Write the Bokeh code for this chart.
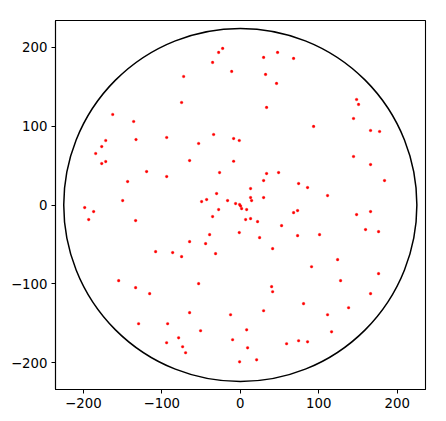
from bokeh.plotting import figure
from bokeh.models import Range1d, FixedTicker
from bokeh.embed import file_html
from bokeh.resources import INLINE

# circle
circle_x = [0]
circle_y = [0]
circle_r = [225]

# scattered points
pts_x = [
    -22.5, -27.6, -35.3, -11.0, -72.2, -74.8, -162.6, -135.9, -34.0, -93.8,
    -132.9, -8.5, -1.3, -171.5, -176.6, -53.1, -184.3, -64.6, -171.5, -176.6,
    -8.5, -26.4, -119.4, -143.6, -93.8, -30.2, -149.9, -49.3, -42.9, -16.2, -6.0,
    47.5, 29.7, 67.9, 32.2, 46.2, 33.5, 148.2, 150.7, 144.3, 93.4,
    166.0, 177.5, 144.3, 166.0, 183.8, 33.5, 48.8, 29.7, 74.3, 85.7,
    111.2, 13.1, 13.1, 14.4, 29.7, -0.9,
    0.4, 1.7, 8.1, 6.8, 13.1, 22.0, -1.3, 24.6, 52.6, 67.9,
    73.0, 73.0, 101.0, 148.2, 166.0, 159.6, 176.2, 41.2, 124.0, 90.8,
    176.2, 127.8, 39.9, 41.2, 166.0, 80.6, 138.0, 29.7, 111.2, 116.3,
    8.1, 9.3, 59.0, 74.3, 85.7, -0.9, 20.8,
    -198.3, -186.9, -193.2, -133.4, -35.3, -27.6, -39.1, -64.6, -44.2, -31.5,
    -107.9, -86.2, -74.8, -155.0, -53.1, -133.4, -115.5, -64.6, -12.4, -129.6,
    -92.6, -50.6, -78.6, -9.8, -93.9, -73.5, -69.7,
]
pts_y = [
    198.6, 193.5, 180.8, 169.4, 163.0, 130.0, 114.8, 105.9, 89.4, 85.6,
    83.0, 84.3, 81.8, 81.8, 74.1, 78.0, 65.3, 56.4, 55.1, 52.6,
    55.5, 41.1, 42.4, 29.7, 36.1, 14.5, 5.6, 4.3, 6.9, 5.6, 1.8,
    193.5, 187.2, 185.9, 165.6, 154.2, 123.7, 133.8, 127.5, 109.7, 99.6,
    94.5, 93.2, 61.5, 51.3, 31.0, 39.9, 41.1, 31.0, 27.2, 22.1,
    11.9, 20.8, 9.4, 5.6, 9.4, 0.5,
    -1.3, -4.6, -5.8, -18.5, -17.3, -21.1, -35.0, -41.4, -26.2, -9.7,
    -7.1, -38.9, -37.6, -12.2, -8.4, -31.2, -33.8, -55.4, -69.3, -78.3,
    -87.1, -96.0, -103.6, -110.0, -112.5, -125.2, -130.3, -134.1, -139.2, -160.8,
    -158.3, -181.1, -176.0, -172.2, -173.5, -198.9, -196.3,
    -3.3, -8.4, -18.5, -19.8, -14.7, -5.8, -37.6, -46.5, -49.0, -61.7,
    -59.2, -60.4, -65.5, -96.0, -99.8, -104.9, -112.5, -136.6, -139.2, -150.6,
    -150.6, -159.5, -168.4, -170.9, -174.7, -179.8, -187.4,
]

ticks = [-200, -100, 0, 100, 200]
tick_labels = ["\u2212200", "\u2212100", "0", "100", "200"]

p = figure(
    output_backend="svg", toolbar_location=None,
    frame_width=370, frame_height=369,
    min_border_left=55, min_border_top=20, min_border_bottom=30, min_border_right=12,
    x_range=Range1d(-235.5, 236.0), y_range=Range1d(-234.0, 234.0),
)
p.background_fill_color = "white"
p.border_fill_color = "white"
p.outline_line_color = "black"
p.outline_line_width = 1.1
p.xgrid.visible = False
p.ygrid.visible = False

for ax in (p.xaxis[0], p.yaxis[0]):
    ax.ticker = FixedTicker(ticks=ticks)
    ax.major_label_overrides = {t: l for t, l in zip(ticks, tick_labels)}
    ax.minor_tick_line_color = None
    ax.major_tick_in = 0
    ax.major_tick_out = 4
    ax.major_tick_line_width = 1
    ax.major_tick_line_color = "black"
    ax.axis_line_color = "black"
    ax.axis_line_width = 1.1
    ax.major_label_text_font = "DejaVu Sans"
    ax.major_label_text_font_size = "13.3px"
    ax.major_label_text_color = "black"
    ax.major_label_standoff = 4

p.circle(x=circle_x, y=circle_y, radius=circle_r, fill_color=None,
         line_color="black", line_width=1.5)

p.scatter(x=pts_x, y=pts_y, marker="circle", size=2.7,
          fill_color="red", line_color="red", line_width=0.3)

open("out.html", "w").write(file_html(p, INLINE))
